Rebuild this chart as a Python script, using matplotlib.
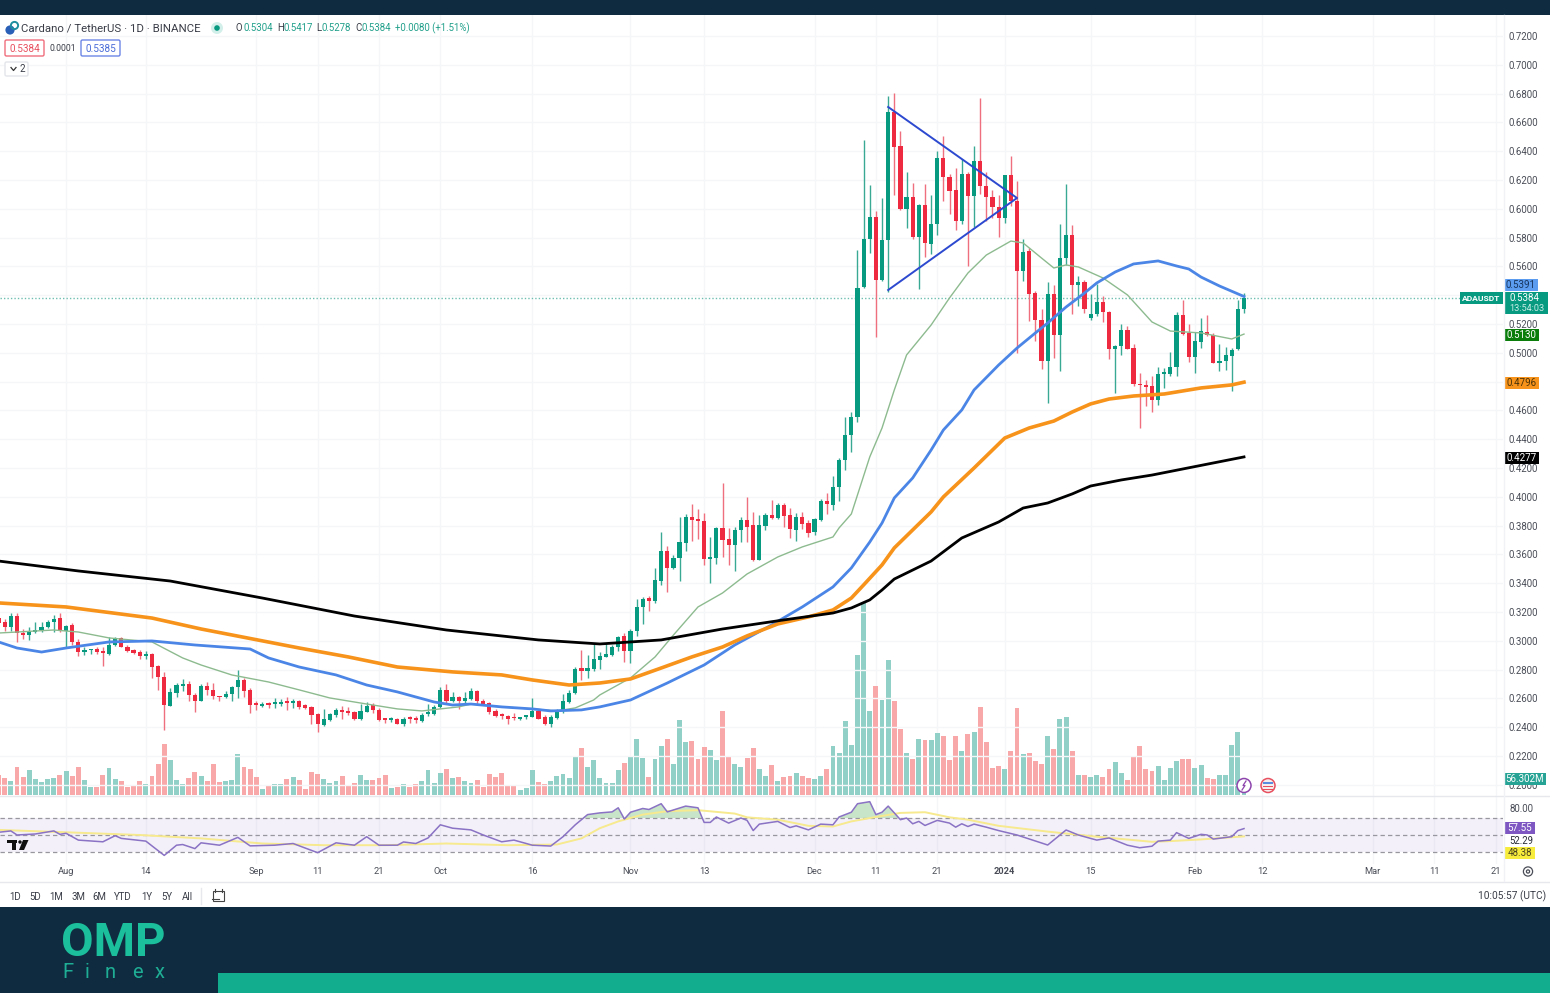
import numpy as np
import pandas as pd
import matplotlib
matplotlib.use("Agg")
import matplotlib.pyplot as plt
import matplotlib.dates as mdates
from matplotlib.patches import Rectangle, Circle, FancyBboxPatch, Polygon

plt.rcParams['font.family'] = ['Roboto', 'DejaVu Sans']

last_date = "2024-02-09"

open_ = [
.3157,.3129,.3094,.3173,.3053,.3037,.3064,.3076,.3094,.3129,
.3157,.3069,.3110,.2995,.2919,.2933,.2944,.2921,.2909,.2972,
.3016,.2960,.2933,.2923,.2896,.2907,.2822,.2748,.2549,.2637,
.2688,.2702,.2625,.2584,.2683,.2658,.2614,.2609,.2632,.2676,
.2729,.2660,.2561,.2547,.2563,.2561,.2561,.2577,.2570,.2579,
.2551,.2537,.2491,.2417,.2449,.2484,.2514,.2509,.2505,.2458,
.2509,.2553,.2521,.2456,.2447,.2456,.2424,.2463,.2456,.2444,
.2491,.2491,.2537,.2659,.2585,.2613,.2585,.2595,.2650,.2585,
.2565,.2514,.2488,.2479,.2468,.2458,.2470,.2472,.2514,.2474,
.2424,.2463,.2514,.2578,.2636,.2809,.2791,.2805,
.2869,.2890,.2904,.2957,.3031,.2927,.3070,.3232,.3297,.3274,
.3417,.3625,.3509,.3574,.3682,.3858,.3844,.3833,.3567,.3574,
.3786,.3708,.3666,.3766,.3839,.3805,.3562,.3800,.3874,.3856,
.3943,.3874,.3770,.3858,.3821,.3754,.3839,.3973,.3946,.4066,
.4256,.4429,.4554,
.5456,.5793,.5945,.5509,.5784,.6675,.6435,.5998,.6079,.5802,
.6024,.5756,.5894,.6352,.6222,.6130,.5917,.6241,.6086,.6333,
.6158,.6084,.6010,.5936,.6232,.6052,.5566,.5705,.5416,.5231,
.4942,.5411,.5122,.5658,.5815,.5473,.5492,.5244,.5270,.5355,
.5281,.5023,.5046,.5157,.5034,.4785,.4775,.4766,.4669,.4852,
.4856,.4900,.5260,.5138,.4972,.5073,.5147,.5127,.4930,.4942,
.4981,.5023,.5304]
high = [
.3164,.3150,.3191,.3191,.3080,.3094,.3134,.3134,.3145,.3180,
.3191,.3110,.3122,.3011,.2956,.2942,.2960,.2960,.3025,.3025,
.3023,.2972,.2944,.2937,.2930,.2914,.2833,.2780,.2672,.2706,
.2734,.2718,.2637,.2699,.2711,.2706,.2618,.2648,.2683,.2799,
.2741,.2672,.2584,.2572,.2572,.2602,.2595,.2609,.2595,.2591,
.2560,.2544,.2498,.2525,.2502,.2532,.2544,.2539,.2514,.2562,
.2576,.2567,.2530,.2463,.2468,.2463,.2468,.2479,.2479,.2502,
.2562,.2551,.2678,.2698,.2641,.2620,.2641,.2671,.2659,.2595,
.2578,.2525,.2498,.2488,.2498,.2474,.2486,.2601,.2525,.2486,
.2486,.2525,.2629,.2655,.2821,.2936,.2902,.2976,
.2920,.2985,.2973,.3031,.3054,.3082,.3292,.3301,.3308,.3505,
.3759,.3655,.3597,.3863,.3881,.3948,.3913,.3886,.3724,.3793,
.4094,.3782,.3789,.3858,.3997,.3893,.3874,.3886,.3978,.3955,
.3955,.3920,.3886,.3893,.3839,.3851,.3983,.4029,.4144,.4270,
.4554,.4589,.5714,
.6479,.6167,.5982,.6075,.6784,.6802,.6541,.6255,.6179,.6033,
.6174,.6098,.6398,.6507,.6240,.6283,.6347,.6255,.6433,.6772,
.6255,.6132,.6098,.6236,.6368,.6190,.5793,.5728,.5428,.5301,
.5489,.5473,.5893,.6173,.5889,.5535,.5503,.5411,.5480,.5392,
.5288,.5057,.5203,.5189,.5062,.4861,.4808,.4842,.4902,.4896,
.5006,.5284,.5364,.5203,.5143,.5242,.5260,.5138,.5064,.5039,
.5034,.5364,.5417]
low = [
.3115,.3071,.3071,.2995,.3011,.3007,.3057,.3064,.3087,.3064,
.3064,.2956,.2972,.2891,.2903,.2909,.2909,.2822,.2898,.2965,
.2956,.2923,.2907,.2873,.2873,.2741,.2660,.2383,.2544,.2607,
.2653,.2584,.2503,.2579,.2625,.2595,.2579,.2602,.2579,.2602,
.2609,.2498,.2521,.2540,.2533,.2533,.2544,.2521,.2533,.2526,
.2525,.2424,.2364,.2410,.2440,.2470,.2456,.2486,.2447,.2451,
.2505,.2498,.2440,.2428,.2438,.2419,.2405,.2428,.2428,.2435,
.2479,.2486,.2532,.2567,.2578,.2525,.2555,.2590,.2562,.2555,
.2493,.2470,.2456,.2424,.2451,.2451,.2456,.2470,.2456,.2414,
.2398,.2456,.2502,.2571,.2632,.2729,.2740,.2793,
.2807,.2886,.2892,.2927,.2851,.2846,.3036,.3119,.3204,.3262,
.3389,.3336,.3498,.3417,.3627,.3696,.3706,.3528,.3401,.3535,
.3581,.3528,.3488,.3685,.3689,.3553,.3558,.3766,.3844,.3844,
.3789,.3712,.3694,.3775,.3724,.3736,.3835,.3881,.3909,.3971,
.4186,.4311,.4520,
.5451,.5693,.5111,.5497,.5423,.6098,.5994,.5867,.5793,.5444,
.5663,.5687,.5820,.6052,.5964,.5851,.5894,.5601,.5871,.6102,
.5917,.5936,.5802,.5901,.6017,.5000,.5497,.5220,.5081,.4885,
.4648,.4965,.4872,.5612,.5272,.5323,.5277,.5226,.5254,.5214,
.4958,.4718,.4988,.5023,.4768,.4480,.4630,.4588,.4637,.4757,
.4842,.4838,.5127,.4935,.4861,.5034,.5115,.4926,.4872,.4884,
.4734,.5018,.5278]
close = [
.3122,.3094,.3173,.3053,.3039,.3069,.3076,.3099,.3129,.3152,
.3069,.3104,.2995,.2921,.2937,.2937,.2919,.2914,.2972,.3013,
.2960,.2930,.2914,.2896,.2907,.2817,.2748,.2554,.2644,.2690,
.2702,.2623,.2584,.2688,.2655,.2614,.2607,.2632,.2676,.2729,
.2648,.2556,.2554,.2561,.2556,.2568,.2575,.2570,.2575,.2540,
.2532,.2486,.2421,.2456,.2491,.2516,.2509,.2502,.2458,.2514,
.2548,.2516,.2447,.2449,.2463,.2424,.2458,.2456,.2449,.2486,
.2502,.2541,.2659,.2585,.2613,.2585,.2601,.2648,.2585,.2562,
.2509,.2481,.2481,.2456,.2461,.2468,.2477,.2514,.2456,.2424,
.2470,.2514,.2585,.2636,.2805,.2791,.2809,.2872,
.2897,.2909,.2957,.3026,.2932,.3070,.3232,.3292,.3278,.3419,
.3625,.3509,.3578,.3685,.3858,.3842,.3833,.3567,.3578,.3786,
.3701,.3666,.3770,.3839,.3793,.3558,.3805,.3874,.3856,.3943,
.3870,.3775,.3858,.3812,.3752,.3844,.3973,.3948,.4066,.4256,
.4429,.4554,.5450,
.5793,.5945,.5509,.5784,.6675,.6430,.6001,.6079,.5802,.6024,
.5760,.5894,.6352,.6222,.6125,.5917,.6241,.6086,.6333,.6155,
.6079,.6010,.5936,.6232,.6052,.5566,.5698,.5409,.5225,.4943,
.5411,.5122,.5658,.5815,.5473,.5492,.5304,.5272,.5355,.5281,
.5023,.5046,.5161,.5027,.4785,.4773,.4764,.4669,.4854,.4866,
.4902,.5260,.5133,.4972,.5080,.5150,.5122,.4930,.4946,.4983,
.5020,.5304,.5384]
volume = [
17.9,14.9,12.8,24.7,15.8,22.4,14.6,11.6,14.3,14.9,
17.6,21.5,17.0,24.7,13.1,7.5,6.9,17.6,23.8,14.0,
12.8,7.5,8.9,12.2,10.1,17.0,27.4,45.3,31.3,13.4,
10.1,14.9,20.3,17.3,12.2,28.0,11.6,12.2,13.4,36.7,
25.3,22.9,15.8,5.4,8.3,10.1,10.1,14.0,16.1,13.4,
5.1,20.3,18.8,14.0,11.0,12.2,17.0,8.9,11.0,18.2,
13.1,13.4,15.2,18.2,6.3,7.2,9.8,7.2,9.8,12.2,
22.1,10.4,19.7,22.9,14.9,16.4,12.2,11.0,13.1,7.2,
18.8,16.1,19.7,9.2,9.2,4.8,6.3,22.1,11.6,9.5,
12.2,17.0,18.8,14.9,34.0,42.0,24.7,31.3,
14.9,10.4,11.0,22.4,28.3,35.2,49.8,33.4,15.8,31.9,
43.8,50.4,27.7,67.1,47.1,48.6,32.5,42.6,39.9,31.3,
75.4,35.2,27.4,25.3,32.8,41.7,23.2,17.0,26.8,12.8,
16.1,17.3,19.4,17.0,14.9,14.3,17.0,22.9,43.8,37.8,
66.2,44.4,
125.2,172.8,75.4,97.7,84.9,120.7,84.3,58.7,37.3,32.5,
49.8,48.9,48.9,55.7,52.7,31.3,53.0,39.6,54.2,56.0,
78.4,47.7,24.4,25.9,22.9,39.0,78.1,36.7,37.8,30.1,
27.4,52.7,41.1,67.9,69.7,39.0,18.2,18.2,16.4,18.2,
16.4,22.9,29.2,19.4,13.4,35.2,43.8,23.2,21.2,25.9,
13.4,24.1,30.1,32.5,32.5,24.1,26.8,15.5,14.0,18.2,
18.2,44.4,56.0,14.3]

ma20_back = [203,194,192,190,185,178,173,170,165,159,154,149,143,138,134,128,126,121,116,112,109,106,105,100,96,93,89,85,81,76,72,67,66,64,61,59,57,55,51,48,45,42,38,36,33,31,29,27,23,19,15,12,7,2,0]
ma20 = [.3054,.3075,.3068,.3061,.3020,.2992,.2881,.2832,.2763,.2714,.2659,.2603,.2561,.2527,.2513,.2541,.2561,.2541,.2527,.2513,.2534,.2589,.2624,.2742,.2888,.3040,.3235,.3332,.3464,.3582,.3652,.3721,.3784,.3881,.4277,.4478,.4742,.4985,.5193,.5381,.5554,.5679,.5776,.5763,.5658,.5589,.5610,.5596,.5520,.5402,.5214,.5151,.5138,.5096,.5130]
ma50_back = [203,200,196,192,185,178,171,162,159,154,148,143,138,132,129,126,121,116,113,108,105,100,94,88,83,77,72,67,64,61,59,57,54,51,49,46,44,40,37,34,32,29,26,24,21,18,14,11,9,7,4,0]
ma50 = [.2992,.2950,.2922,.2950,.2992,.2999,.2971,.2943,.2881,.2818,.2763,.2693,.2645,.2575,.2554,.2561,.2541,.2527,.2513,.2520,.2541,.2589,.2707,.2832,.2971,.3110,.3235,.3374,.3506,.3686,.3818,.3992,.4131,.4325,.4464,.4603,.4742,.4915,.5033,.5138,.5207,.5318,.5415,.5485,.5561,.5617,.5638,.5603,.5582,.5526,.5464,.5391]
ma100_back = [203,192,178,170,154,146,138,129,121,116,110,105,100,95,90,85,81,76,71,67,64,62,59,57,51,49,44,39,35,31,28,25,22,18,13,7,2,0]
ma100 = [.3263,.3235,.3158,.3082,.2950,.2888,.2818,.2784,.2763,.2728,.2693,.2707,.2735,.2811,.2888,.2957,.3034,.3117,.3166,.3214,.3297,.3388,.3527,.3645,.3895,.3999,.4200,.4408,.4478,.4526,.4589,.4645,.4679,.4700,.4714,.4756,.4777,.4796]
ma200_back = [203,190,175,160,145,130,115,105,95,85,75,67,64,61,59,57,51,46,40,36,32,28,25,20,15,10,5,0]
ma200 = [.3554,.3485,.3415,.3297,.3172,.3075,.3006,.2978,.3006,.3082,.3145,.3193,.3228,.3284,.3353,.3429,.3554,.3714,.3825,.3922,.3957,.4020,.4075,.4117,.4151,.4193,.4235,.4277]
trend_back = [58,37,58]
trend_price = [.6707,.6075,.5436]

rsi_back = [203,201,200,197,194,193,192,190,186,184,183,179,176,174,173,171,170,167,164,162,158,155,151,148,145,143,141,138,
            137,135,133,131,129,126,124,121,119,116,113,111,109,107,
            105,103,102,101,100,98,97,95,94,91,89,88,87,86,84,82,81,80,79,76,74,73,71,69,67,66,64,63,61,60,59,58,56,55,54,53,52,50,48,47,46,45,44,42,
            40,37,33,32,29,27,24,22,19,17,15,14,12,11,9,7,6,5,2,1,0]
rsi = [53.2,54.8,50,51.2,54.8,50.8,52,44,42,49.2,46,42.8,26,38,38.8,34,40.8,38,47.2,37.2,38,40,29.2,40.8,38,48,38,38,
       41.8,40,46.5,62,58,56,50,42,44,38,37,48,62,74,
       76,77.2,82,68.8,76.8,81.2,80,86.8,77.2,84,82,64.8,64.8,71.2,64,70,67.2,55.2,62.8,66,58.8,60.8,56,62.8,62,71.2,76.8,86.8,89.2,74,76.8,84,68,70,63.2,66,61.2,67.2,64,59.2,63.2,60,62.8,59.2,
       55.2,50,40.6,38.2,55.9,50,44,46.5,38,35,36.8,42.8,44,52.8,46,50.8,50,45.2,48,55.2,57.55]
rsi_ma_back = [203,192,180,170,160,150,140,130,120,112,108,105,102,98,94,89,83,81,76,71,67,64,60,56,52,48,45,40,32,24,15,12,7,0]
rsi_ma = [56,53.2,50,46,40,38,38,40,38,38.8,46,58,66,74,78,79.2,75.2,70.8,68,60.8,60,66,71.2,76,76.8,70.8,68,60.8,54,48,42,42.8,44.8,48.38]

price_ticks = [round(0.20 + 0.02*i, 2) for i in range(27)]
hidden_price_labels = [0.48, 0.54]
date_ticks = ["2023-08-01","2023-08-14","2023-09-01","2023-09-11","2023-09-21","2023-10-01","2023-10-16","2023-11-01","2023-11-13","2023-12-01","2023-12-11","2023-12-21","2024-01-01","2024-01-15","2024-02-01","2024-02-12","2024-03-01","2024-03-11","2024-03-21"]
date_labels = ["Aug","14","Sep","11","21","Oct","16","Nov","13","Dec","11","21","2024","15","Feb","12","Mar","11","21"]
ranges = ["1D","5D","1M","3M","6M","YTD","1Y","5Y","All"]

W, H = 1550, 993
fig = plt.figure(figsize=(15.5, 9.93), dpi=100, facecolor='white')
def rect(l, t, r, b):
    return [l/W, 1-b/H, (r-l)/W, (b-t)/H]

UP, DOWN = '#089981', '#ee2a40'
GRID = '#f5f6f8'
last_num = mdates.date2num(pd.Timestamp(last_date))
PITCH = 6.135
x_left = last_num - 1244/PITCH
x_right = last_num + (1503-1244)/PITCH
def back(a): return last_num - np.asarray(a, dtype=float)

n = len(close)
days = last_num - np.arange(n-1, -1, -1)
o, h_, l_, c = map(np.array, (open_, high, low, close))
up = c >= o
tick_nums = mdates.date2num(pd.to_datetime(date_ticks))

# volume pane (behind)
ax_vol = fig.add_axes(rect(0, 15, 1503, 795), zorder=1)
ax_vol.bar(days, volume, width=0.8, color=np.where(up, '#90d0c6', '#f9a8aa'), linewidth=0)
ax_vol.set_xlim(x_left, x_right); ax_vol.set_ylim(0, 780*0.894)
ax_vol.set_yticks([]); ax_vol.set_xticks([])
for s in ax_vol.spines.values(): s.set_visible(False)
for t in tick_nums: ax_vol.axvline(t, color=GRID, lw=1, zorder=0)

# price pane
ax = fig.add_axes(rect(0, 15, 1503, 795), zorder=2)
ax.patch.set_alpha(0)
ax.set_xlim(x_left, x_right)
y_per_px = 0.02/28.8
ax.set_ylim(0.72-(795-36)*y_per_px, 0.72+(36-15)*y_per_px)
ax.set_yticks(price_ticks)
ax.set_yticklabels(["" if v in hidden_price_labels else f"{v:.4f}" for v in price_ticks])
ax.yaxis.tick_right()
ax.tick_params(axis='y', length=0, pad=4.2, labelsize=6.9, labelcolor='#4a4d57')
ax.set_xticks(tick_nums); ax.set_xticklabels([])
ax.tick_params(axis='x', length=0)
ax.grid(axis='y', color=GRID, lw=1)
ax.set_axisbelow(True)
for s in ax.spines.values(): s.set_visible(False)

ax.axhline(close[-1], color='#6fbfb0', lw=1, ls=(0, (1, 1.5)), zorder=2)
colors = np.where(up, UP, DOWN)
ax.vlines(days, l_, h_, colors=np.where(up, '#3aa994', '#ef6f7e'), lw=1.0, zorder=3)
ax.bar(days, np.maximum(np.abs(c-o), 0.0012), bottom=np.minimum(o, c), width=0.68, color=colors, linewidth=0, zorder=4)
ax.plot(back(ma20_back), ma20, color='#8dbb8f', lw=1.0, zorder=5)
ax.plot(back(ma50_back), ma50, color='#4b86e6', lw=2.0, zorder=5, solid_joinstyle='round')
ax.plot(back(ma100_back), ma100, color='#f7931a', lw=2.6, zorder=5, solid_joinstyle='round')
ax.plot(back(ma200_back), ma200, color='#000000', lw=2.0, zorder=5, solid_joinstyle='round')
ax.plot(back(trend_back), trend_price, color='#2c49cf', lw=1.4, zorder=6)

# RSI pane
ax_r = fig.add_axes(rect(0, 795, 1503, 864), zorder=2)
ax_r.patch.set_alpha(0)
ax_r.set_xlim(x_left, x_right)
ax_r.set_ylim(50-(864-835)/0.85, 50+(835-795)/0.85)
ax_r.axhspan(30, 70, color='#7e57c2', alpha=0.085, lw=0)
for v in (70, 50, 30):
    ax_r.axhline(v, color='#98969f', lw=0.9, ls=(0, (3.5, 2.5)))
for t in tick_nums: ax_r.axvline(t, color=GRID, lw=1, zorder=0)
rx, ry = back(rsi_back), np.array(rsi)
ax_r.plot(back(rsi_ma_back), rsi_ma, color='#f7e98e', lw=1.4, zorder=3)
ax_r.fill_between(rx, ry, 70, where=ry > 70, interpolate=True, color='#66b565', alpha=0.35, lw=0, zorder=2)
ax_r.plot(rx, ry, color='#8a72c4', lw=1.1, zorder=4)
ax_r.set_yticks([])
ax_r.set_xticks(tick_nums); ax_r.set_xticklabels(date_labels)
ax_r.tick_params(axis='x', length=0, pad=2.3, labelsize=6.7, labelcolor='#4a4d57')
for lab, txt in zip(ax_r.get_xticklabels(), date_labels):
    if txt == '2024': lab.set_fontweight('bold')
for s in ax_r.spines.values(): s.set_visible(False)

# overlay in pixels for terminal furniture
ui = fig.add_axes([0, 0, 1, 1], zorder=5)
ui.set_xlim(0, W); ui.set_ylim(H, 0); ui.axis('off'); ui.patch.set_alpha(0)
NAVY = '#0e2b3f'
ui.add_patch(Rectangle((0, 0), W, 15, color=NAVY, lw=0))
ui.add_patch(Rectangle((0, 907), W, 86, color=NAVY, lw=0))
ui.add_patch(Rectangle((218, 973), W-218, 20, color='#12ad8e', lw=0))
ui.plot([0, W], [795.5, 795.5], color='#e6e8ee', lw=1)
ui.plot([0, W], [881.5, 881.5], color='#e6e8ee', lw=1)
ui.plot([1503.5, 1503.5], [15, 881], color='#f0f2f6', lw=1)
ui.plot([201, 201], [888, 904], color='#e6e8ee', lw=1)

def T(x, y, s, size=7, color='#3a3d47', ha='left', **kw):
    return ui.text(x, y, s, fontsize=size, color=color, ha=ha, va='center', **kw)

# header
ui.add_patch(Circle((10, 30), 4.6, color='#2a5fb8', lw=0))
ui.add_patch(Circle((14.5, 25.5), 3.6, fill=False, ec='#1f8f9f', lw=1.4))
T(21, 28.3, "Cardano / TetherUS · 1D · BINANCE", size=8.2)
ui.add_patch(Circle((217, 28), 6, color='#d3efe9', lw=0))
ui.add_patch(Circle((217, 28), 2.8, color='#089981', lw=0))
VAL = '#22a08b'
for xp, lbl, xv, val in [(236, "O", 243, "0.5304"), (277, "H", 283.5, "0.5417"), (316.5, "L", 322, "0.5278"), (355, "C", 362, "0.5384")]:
    T(xp, 28.3, lbl, size=6.9)
    T(xv, 28.3, val, size=6.9, color=VAL)
T(395, 28.3, "+0.0080 (+1.51%)", size=6.9, color=VAL)

def box(l, t, r, b, ec, fc='white', lw=1.0):
    ui.add_patch(FancyBboxPatch((l+1.5, t+1.5), r-l-3, b-t-3, boxstyle="round,pad=1.5", ec=ec, fc=fc, lw=lw))
box(5, 40, 44, 56, '#ef6f7e'); T(24.5, 48.5, "0.5384", size=7.2, color='#e8505f', ha='center')
T(62.5, 48.5, "0.0001", size=6.2, ha='center')
box(81, 40, 120, 56, '#6d86e6'); T(100.5, 48.5, "0.5385", size=7.2, color='#4a6cd8', ha='center')
box(5, 62, 28, 76, '#e3e5ea')
ui.plot([11, 13.5, 16], [67.5, 70.5, 67.5], color='#333', lw=0.9)
T(22, 69.3, "2", size=7, ha='center')

# right scale tags
def tag(l, t, r, b, fc, s, color='white', size=7, **kw):
    ui.add_patch(Rectangle((l, t), r-l, b-t, color=fc, lw=0))
    T((l+r)/2, (t+b)/2+0.3, s, size=size, color=color, ha='center', **kw)
tag(1504, 279, 1538, 291, '#5b9cf0', "0.5391", color='#17345c')
ui.add_patch(Rectangle((1504, 292), 44, 22, color='#089981', lw=0))
T(1509, 298.3, "0.5384", size=7, color='white')
T(1509, 308.8, "13:54:03", size=6.6, color='#c9eee6')
tag(1460, 292, 1503, 304, '#089981', "ADAUSDT", size=6.1, fontweight='bold')
tag(1504, 329, 1539, 340.5, '#0b7d0b', "0.5130")
tag(1504, 377, 1539, 388.5, '#f7931a', "0.4796", color='#4a3208')
tag(1504, 452, 1539, 463.5, '#000000', "0.4277")
tag(1504, 773, 1546, 785, '#26a394', "56.302M")
T(1509, 809.5, "80.00", size=6.9, color='#4a4d57')
tag(1504, 822, 1535, 834, '#7e57c2', "57.55")
T(1509, 841.3, "52.29", size=6.9, color='#2a2d37')
tag(1504, 847, 1535, 859, '#f7ec3c', "48.38", color='#4a4420')

# bottom toolbar
for xc, s in zip([15, 35, 56, 78, 99, 123, 147, 167, 187], ranges):
    T(xc, 896.5, s, size=6.9, ha='center')
ui.add_patch(Rectangle((213, 891), 11, 10, fill=False, ec='#444', lw=0.8))
ui.plot([212, 219], [899, 899], color='#444', lw=0.8)
ui.plot([215, 215], [889, 892], color='#444', lw=0.8); ui.plot([222, 222], [889, 892], color='#444', lw=0.8)
T(1546, 896.5, "10:05:57 (UTC)", size=7.3, ha='right')
ui.add_patch(Circle((1528, 871.5), 4.6, fill=False, ec='#4a4d57', lw=0.9))
ui.add_patch(Circle((1528, 871.5), 1.6, fill=False, ec='#4a4d57', lw=0.9))

# TradingView mark
ui.add_patch(Rectangle((7, 840), 10, 3.4, color='#111', lw=0))
ui.add_patch(Rectangle((11.5, 840), 4, 10, color='#111', lw=0))
ui.add_patch(Circle((20, 842), 1.7, color='#111', lw=0))
ui.add_patch(Polygon([[23, 840], [28.5, 840], [24, 850], [19, 850]], color='#111', lw=0))

# event icons
ui.add_patch(Circle((1244, 785.5), 7, fc='white', ec='#8e44ad', lw=1.1))
ui.plot([1246, 1243, 1245, 1242], [781, 785.5, 785.5, 790], color='#8e44ad', lw=0.9)
ui.add_patch(Circle((1268, 785.5), 7, fc='#f5f0f0', ec='#e8505f', lw=1.1))
ui.add_patch(Rectangle((1263, 782), 10, 2, color='#5b8ede', lw=0))
ui.add_patch(Rectangle((1263, 785.5), 10, 1.4, color='#e8505f', lw=0))
ui.add_patch(Rectangle((1263, 788.5), 10, 1.4, color='#e8505f', lw=0))

# brand block
T(61, 942.5, "OMP", size=34, color='#1cbf9c', fontweight='bold')
for xc, s in zip([67.5, 87, 110, 137, 160], "Finex"):
    T(xc, 972, s, size=14.5, color='#1fae95', ha='center')

fig.savefig("out.png", dpi=100, facecolor='white')
